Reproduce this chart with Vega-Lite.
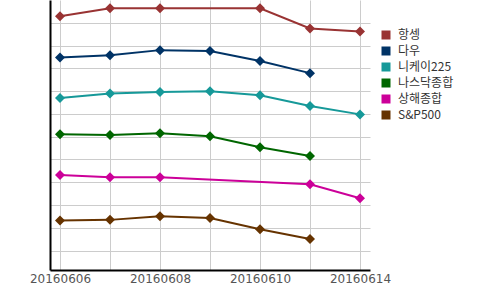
{
  "$schema": "https://vega.github.io/schema/vega-lite/v6.json",
  "width": 320,
  "height": 270,
  "autosize": {"type": "none"},
  "padding": {"left": 50, "top": 0, "right": 130, "bottom": 20},
  "background": "white",
  "config": {
    "view": {"stroke": null},
    "font": "Noto Sans CJK KR"
  },
  "data": {
    "values": [
      {"date": "20160606", "index": "항셍", "v": 11.29},
      {"date": "20160607", "index": "항셍", "v": 11.64},
      {"date": "20160608", "index": "항셍", "v": 11.64},
      {"date": "20160610", "index": "항셍", "v": 11.64},
      {"date": "20160613", "index": "항셍", "v": 10.75},
      {"date": "20160614", "index": "항셍", "v": 10.62},
      {"date": "20160606", "index": "다우", "v": 9.48},
      {"date": "20160607", "index": "다우", "v": 9.58},
      {"date": "20160608", "index": "다우", "v": 9.80},
      {"date": "20160609", "index": "다우", "v": 9.76},
      {"date": "20160610", "index": "다우", "v": 9.32},
      {"date": "20160613", "index": "다우", "v": 8.79},
      {"date": "20160606", "index": "니케이225", "v": 7.70},
      {"date": "20160607", "index": "니케이225", "v": 7.90},
      {"date": "20160608", "index": "니케이225", "v": 7.96},
      {"date": "20160609", "index": "니케이225", "v": 8.00},
      {"date": "20160610", "index": "니케이225", "v": 7.82},
      {"date": "20160613", "index": "니케이225", "v": 7.35},
      {"date": "20160614", "index": "니케이225", "v": 6.98},
      {"date": "20160606", "index": "나스닥종합", "v": 6.11},
      {"date": "20160607", "index": "나스닥종합", "v": 6.07},
      {"date": "20160608", "index": "나스닥종합", "v": 6.15},
      {"date": "20160609", "index": "나스닥종합", "v": 6.02},
      {"date": "20160610", "index": "나스닥종합", "v": 5.54},
      {"date": "20160613", "index": "나스닥종합", "v": 5.15},
      {"date": "20160606", "index": "상해종합", "v": 4.32},
      {"date": "20160607", "index": "상해종합", "v": 4.22},
      {"date": "20160608", "index": "상해종합", "v": 4.22},
      {"date": "20160613", "index": "상해종합", "v": 3.91},
      {"date": "20160614", "index": "상해종합", "v": 3.30},
      {"date": "20160606", "index": "S&P500", "v": 2.32},
      {"date": "20160607", "index": "S&P500", "v": 2.35},
      {"date": "20160608", "index": "S&P500", "v": 2.51},
      {"date": "20160609", "index": "S&P500", "v": 2.43},
      {"date": "20160610", "index": "S&P500", "v": 1.94},
      {"date": "20160613", "index": "S&P500", "v": 1.51}
    ]
  },
  "encoding": {
    "x": {
      "field": "date",
      "type": "ordinal",
      "scale": {"type": "point", "padding": 0.2},
      "axis": {
        "title": null,
        "labelAngle": 0,
        "ticks": false,
        "grid": true,
        "domainColor": "#000000",
        "domainWidth": 2,
        "gridColor": "#cccccc",
        "gridWidth": 1,
        "labelColor": "#555555",
        "labelFontSize": 12,
        "labelPadding": 3,
        "labelFont": "DejaVu Sans",
        "labelExpr": "indexof(['20160606','20160608','20160610','20160614'], datum.label) >= 0 ? datum.label : ''"
      }
    },
    "y": {
      "field": "v",
      "type": "quantitative",
      "scale": {"domain": [0.15, 12], "nice": false, "zero": false},
      "axis": {
        "title": null,
        "labels": false,
        "ticks": false,
        "values": [1, 2, 3, 4, 5, 6, 7, 8, 9, 10, 11],
        "domainColor": "#000000",
        "domainWidth": 2,
        "gridColor": "#cccccc",
        "gridWidth": 1
      }
    },
    "color": {
      "field": "index",
      "type": "nominal",
      "scale": {
        "domain": ["항셍", "다우", "니케이225", "나스닥종합", "상해종합", "S&P500"],
        "range": ["#993333", "#003366", "#169999", "#006600", "#cc0099", "#663300"]
      },
      "legend": {
        "title": null,
        "orient": "none",
        "legendX": 330,
        "legendY": 29,
        "symbolType": "square",
        "symbolSize": 81,
        "symbolStrokeWidth": 0,
        "symbolOpacity": 1,
        "labelFontSize": 12,
        "labelColor": "#333333",
        "labelOffset": 6,
        "rowPadding": 4
      }
    }
  },
  "layer": [
    {"mark": {"type": "line", "strokeWidth": 2}},
    {"mark": {"type": "point", "shape": "diamond", "filled": true, "opacity": 1, "size": 100}}
  ]
}
